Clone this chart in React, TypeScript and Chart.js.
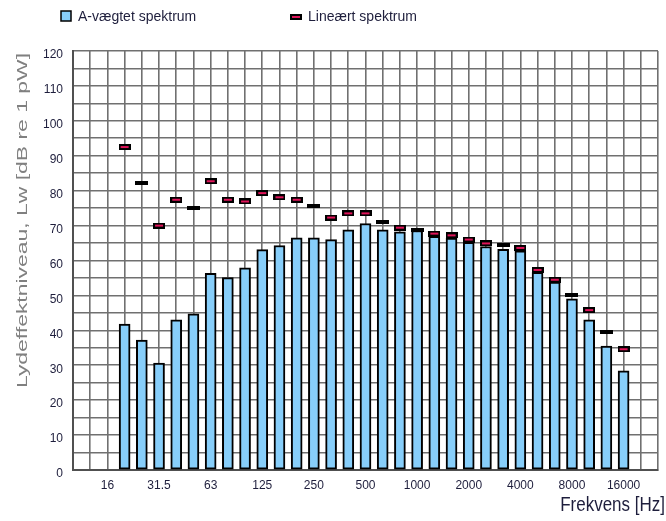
import React, { useEffect, useRef } from 'react';
import { Chart, registerables } from 'chart.js';

Chart.register(...registerables);

// Axis categories (1/3-octave bands shown on the frequency axis)
const frequencyBands = ['10', '12.5', '16', '20', '25', '31.5', '40', '50', '63', '80', '100', '125', '160', '200', '250', '315', '400', '500', '630', '800', '1000', '1250', '1600', '2000', '2500', '3150', '4000', '5000', '6300', '8000', '10000', '12500', '16000', '20000', '25000'];
// Bands that carry a tick label
const labelledBands = ['16', '31.5', '63', '125', '250', '500', '1000', '2000', '4000', '8000', '16000'];
// Bands that have measured values
const measuredBands = ['20', '25', '31.5', '40', '50', '63', '80', '100', '125', '160', '200', '250', '315', '400', '500', '630', '800', '1000', '1250', '1600', '2000', '2500', '3150', '4000', '5000', '6300', '8000', '10000', '12500', '16000'];
// A-weighted spectrum, dB re 1 pW
const aWeightedLevels = [41.8, 37.2, 30.6, 43.0, 44.7, 56.3, 55.1, 57.9, 63.1, 64.3, 66.5, 66.5, 66.0, 68.8, 70.6, 68.8, 68.2, 68.6, 66.9, 66.4, 65.2, 64.0, 63.2, 62.8, 56.6, 53.8, 49.0, 43.0, 35.5, 28.4];
// Linear spectrum, dB re 1 pW
const linearLevels = [92.5, 82.3, 70.0, 77.4, 74.9, 82.7, 77.4, 76.9, 79.3, 78.1, 77.4, 75.5, 72.3, 73.5, 73.5, 70.9, 69.4, 68.8, 67.7, 67.2, 66.0, 64.9, 64.3, 63.6, 57.3, 54.5, 50.0, 45.8, 39.6, 34.6];
// Bands whose linear marker is drawn dark
const darkMarkerBands = ['25', '50', '250', '630', '1000', '3150', '8000', '12500'];

const FONT = '"Liberation Sans", Arial, sans-serif';
const BAR_FILL = '#87cefa';
const MARKER_PINK = '#e0145a';
const GRID = '#707070';
const LABEL_COLOR = '#1e1e3c';

function makeMarker(w: number, h: number, pink: boolean): HTMLCanvasElement {
  const c = document.createElement('canvas');
  c.width = w;
  c.height = h;
  const g = c.getContext('2d')!;
  g.fillStyle = '#000';
  g.fillRect(0, 0, w, h);
  if (pink) {
    g.fillStyle = MARKER_PINK;
    g.fillRect(2, 2, w - 4, h - 4);
  }
  return c;
}

export default function App() {
  const ref = useRef<HTMLCanvasElement>(null);

  useEffect(() => {
    const canvas = ref.current;
    if (!canvas) return;
    const pinkMarker = makeMarker(12, 6, true);
    const darkMarker = makeMarker(13, 4, false);

    const barData = frequencyBands.map((f) => {
      const i = measuredBands.indexOf(f);
      return i >= 0 ? aWeightedLevels[i] : null;
    });
    const lineData = frequencyBands.map((f) => {
      const i = measuredBands.indexOf(f);
      return i >= 0 ? linearLevels[i] : null;
    });

    const yTitle = 'Lydeffektniveau, Lw [dB re 1 pW]';

    const textPlugin = {
      id: 'customTexts',
      afterDraw(chart: any) {
        const ctx: CanvasRenderingContext2D = chart.ctx;
        ctx.save();
        // legend
        ctx.fillStyle = BAR_FILL;
        ctx.fillRect(61, 11, 10, 10);
        ctx.strokeStyle = '#000';
        ctx.lineWidth = 1.5;
        ctx.strokeRect(61, 11, 10, 10);
        ctx.font = `14px ${FONT}`;
        ctx.fillStyle = LABEL_COLOR;
        ctx.textBaseline = 'middle';
        ctx.textAlign = 'left';
        ctx.fillText('A-vægtet spektrum', 78, 17);
        ctx.drawImage(pinkMarker, 290, 14);
        ctx.fillText('Lineært spektrum', 308, 17);

        // y axis title (stretched along its length)
        ctx.save();
        ctx.translate(23, 388);
        ctx.rotate(-Math.PI / 2);
        ctx.font = `14px ${FONT}`;
        const w = ctx.measureText(yTitle).width;
        ctx.scale(335 / w, 1);
        ctx.fillStyle = '#808080';
        ctx.textAlign = 'left';
        ctx.textBaseline = 'middle';
        ctx.fillText(yTitle, 0, 0);
        ctx.restore();

        // x axis title
        ctx.save();
        ctx.translate(665, 505);
        ctx.font = `17px ${FONT}`;
        ctx.scale(1, 1.2);
        ctx.fillStyle = LABEL_COLOR;
        ctx.textAlign = 'right';
        ctx.textBaseline = 'middle';
        ctx.fillText('Frekvens [Hz]', 0, 0);
        ctx.restore();

        ctx.restore();
      },
    };

    const chart = new Chart(canvas, {
      type: 'bar',
      data: {
        labels: frequencyBands,
        datasets: [
          {
            type: 'line',
            label: 'Lineært spektrum',
            data: lineData,
            showLine: false,
            pointRadius: 3,
            pointHoverRadius: 3,
            pointStyle: (c: any) =>
              darkMarkerBands.includes(frequencyBands[c.dataIndex]) ? darkMarker : pinkMarker,
            order: 1,
          } as any,
          {
            type: 'bar',
            label: 'A-vægtet spektrum',
            data: barData,
            backgroundColor: BAR_FILL,
            borderColor: '#000',
            borderWidth: 2,
            borderSkipped: false,
            barThickness: 11,
            order: 2,
          } as any,
        ],
      },
      options: {
        animation: false,
        responsive: false,
        events: [],
        layout: { padding: { top: 51, left: 0, right: 0, bottom: 0 } },
        plugins: {
          legend: { display: false },
          tooltip: { enabled: false },
        },
        scales: {
          x: {
            type: 'category',
            offset: false,
            grid: { offset: false, color: GRID, lineWidth: 1.6, drawTicks: false },
            border: { color: '#505050', width: 2 },
            ticks: {
              autoSkip: false,
              maxRotation: 0,
              minRotation: 0,
              padding: 8,
              color: LABEL_COLOR,
              font: { family: FONT, size: 12 },
              callback: (_v: any, i: number) =>
                labelledBands.includes(frequencyBands[i]) ? frequencyBands[i] : '',
            },
            afterFit: (s: any) => {
              s.height = 51;
            },
          },
          y: {
            min: 0,
            max: 120,
            grid: { color: GRID, lineWidth: 1.6, drawTicks: false },
            border: { color: '#505050', width: 2 },
            ticks: {
              stepSize: 5,
              padding: 10,
              labelOffset: 4,
              color: LABEL_COLOR,
              font: { family: FONT, size: 12 },
              callback: (v: any) => (Number(v) % 10 === 0 ? String(v) : ''),
            },
            afterFit: (s: any) => {
              s.width = 73;
            },
          },
        },
      } as any,
      plugins: [textPlugin],
    });

    return () => chart.destroy();
  }, []);

  return (
    <div style={{ position: 'fixed', left: 0, top: 0, width: 666, height: 521, background: '#fff' }}>
      <canvas ref={ref} width={666} height={521} style={{ display: 'block' }} />
    </div>
  );
}
